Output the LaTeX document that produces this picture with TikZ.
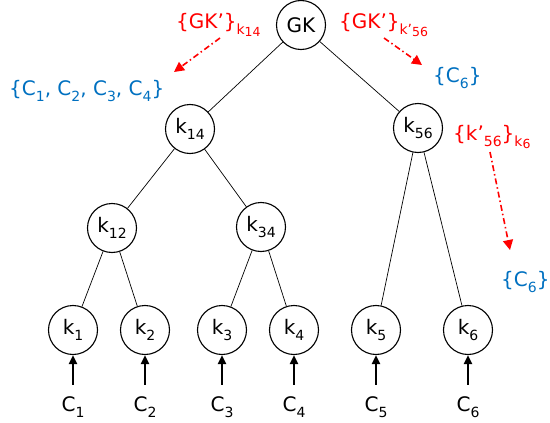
\documentclass[tikz,border=0pt]{standalone}
\usepackage{fontspec}
\setmainfont{DejaVu Sans}
\usetikzlibrary{arrows.meta}
\definecolor{myblue}{RGB}{0,112,192}
\newcommand\sbs[1]{\raisebox{-0.3em}{\fontsize{14}{14}\selectfont #1}}
\newcommand\ssbs[1]{\raisebox{-0.2em}{\fontsize{12.5}{12.5}\selectfont #1}}
\begin{document}
\begin{tikzpicture}[x=1pt,y=-1pt,
  key/.style={circle, draw, line width=1.1pt, minimum size=49pt, inner sep=0pt, font=\fontsize{20}{24}\selectfont},
  edge/.style={line width=0.7pt},
  feed/.style={-{Triangle[length=9pt,width=8pt]}, line width=2.2pt, shorten <=11pt},
  lab/.style={font=\fontsize{20}{24}\selectfont, inner sep=0pt, anchor=base west},
  clab/.style={font=\fontsize{20}{24}\selectfont, inner sep=0pt, anchor=base},
  redlab/.style={lab, text=red},
  bluelab/.style={lab, text=myblue},
  rarrow/.style={red, line width=1.6pt, dash pattern=on 6pt off 3pt on 1.5pt off 3pt, -{Triangle[length=10pt,width=10pt]}}]
\useasboundingbox (0,0) rectangle (550,423);

% tree nodes
\node[key] (gk)  at (301,25)  {GK};
\node[key] (k14) at (190,129) {k\sbs{14}};
\node[key] (k56) at (418,128) {k\sbs{56}};
\node[key] (k12) at (112,228) {k\sbs{12}};
\node[key] (k34) at (261,227) {k\sbs{34}};
\node[key] (k1) at (73,330)  {k\sbs{1}};
\node[key] (k2) at (145,330) {k\sbs{2}};
\node[key] (k3) at (222,330) {k\sbs{3}};
\node[key] (k4) at (294,330) {k\sbs{4}};
\node[key] (k5) at (376,330) {k\sbs{5}};
\node[key] (k6) at (468,330) {k\sbs{6}};

% tree edges
\draw[edge] (gk) -- (k14);
\draw[edge] (gk) -- (k56);
\draw[edge] (k14) -- (k12);
\draw[edge] (k14) -- (k34);
\draw[edge] (k12) -- (k1);
\draw[edge] (k12) -- (k2);
\draw[edge] (k34) -- (k3);
\draw[edge] (k34) -- (k4);
\draw[edge] (k56) -- (k5);
\draw[edge] (k56) -- (k6);

% inputs
\node[clab] (c1) at (73,411)  {C\sbs{1}};
\node[clab] (c2) at (145,411) {C\sbs{2}};
\node[clab] (c3) at (222,411) {C\sbs{3}};
\node[clab] (c4) at (294,411) {C\sbs{4}};
\node[clab] (c5) at (376,411) {C\sbs{5}};
\node[clab] (c6) at (468,411) {C\sbs{6}};
\foreach \i in {1,...,6} \draw[feed] (c\i.north) -- (k\i.south);

% labels
\node[redlab] (t1) at (176,28) {\{GK’\}\sbs{k\ssbs{14}}};
\node[redlab] (t2) at (339,28) {\{GK’\}\sbs{k’\ssbs{56}}};
\node[redlab] (t3) at (453,140) {\{k’\sbs{56}\}\sbs{k\ssbs{6}}};
\node[bluelab] (b1) at (9,95) {\{C\sbs{1}, C\sbs{2}, C\sbs{3}, C\sbs{4}\}};
\node[bluelab] (b2) at (433,82) {\{C\sbs{6}\}};
\node[bluelab] (b3) at (501,286) {\{C\sbs{6}\}};

% red delivery arrows
\coordinate (a1s) at (220,38);
\coordinate (a1e) at (174,72);
\coordinate (a2s) at (384,38);
\coordinate (a2e) at (422,65);
\coordinate (a3s) at (490,152);
\coordinate (a3e) at (510,250);
\draw[rarrow] (a1s) -- (a1e);
\draw[rarrow] (a2s) -- (a2e);
\draw[rarrow] (a3s) -- (a3e);
\end{tikzpicture}
\end{document}
